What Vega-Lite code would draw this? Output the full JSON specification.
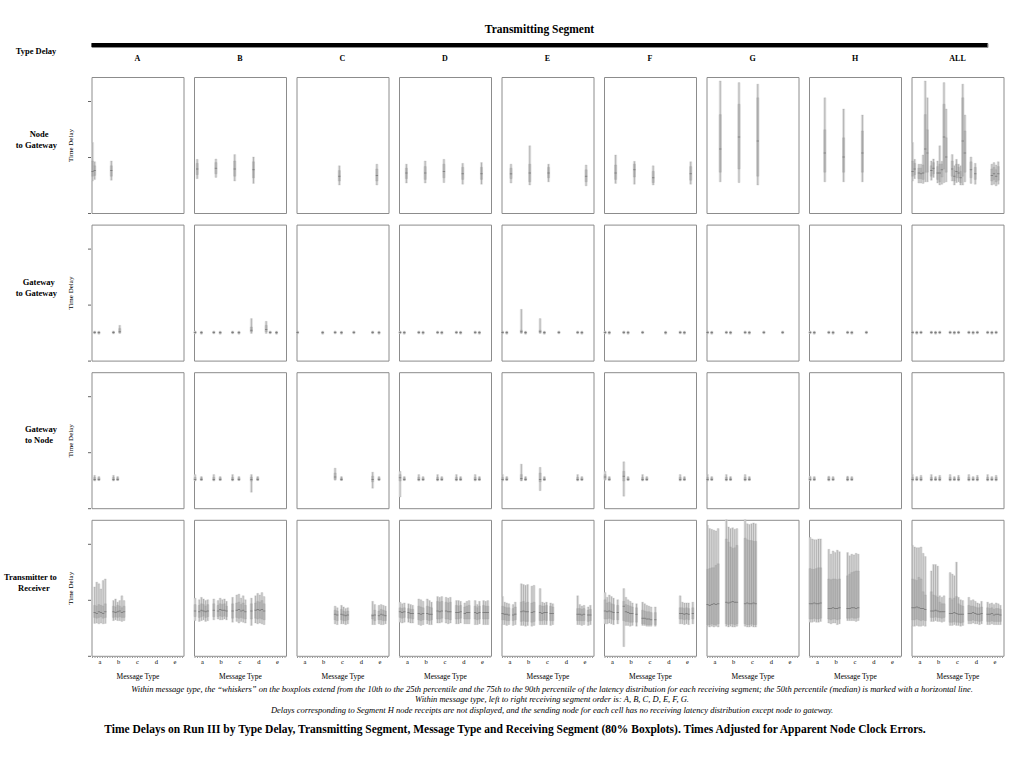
{
"$schema":"https://vega.github.io/schema/vega-lite/v6.json",
"background":"white",
"padding":{"left":3.5,"top":23,"right":10,"bottom":6},
"config":{"font":"Liberation Serif","view":{"stroke":"#8c8c8c","strokeWidth":1},"title":{"font":"Liberation Serif","color":"#000"},"header":{"labelFont":"Liberation Serif","titleFont":"Liberation Serif","labelColor":"#000"},"axis":{"labelFont":"Liberation Serif","titleFont":"Liberation Serif"}},
"title":{"text":"Time Delays on Run III by Type Delay, Transmitting Segment, Message Type and Receiving Segment (80% Boxplots). Times Adjusted for Apparent Node Clock Errors.","orient":"bottom","anchor":"middle","fontSize":11.5,"fontWeight":"bold","offset":10,"dx":11},
"spacing":0,
"vconcat":[
{"width":896,"height":4,
 "title":{"text":"Transmitting Segment","fontSize":11.5,"fontWeight":"bold","offset":8,"anchor":"middle"},
 "data":{"values":[{"x0":0,"x1":1,"y0":0.5}]},
 "mark":{"type":"rule","strokeWidth":4,"color":"#000"},
 "encoding":{
  "x":{"field":"x0","type":"quantitative","scale":{"domain":[0,1]},"axis":null},
  "x2":{"field":"x1"},
  "y":{"field":"y0","type":"quantitative","scale":{"domain":[0,1]},"axis":{"title":"Type Delay","labels":false,"ticks":false,"domain":false,"grid":false,"titleAngle":0,"titleAlign":"center","titleBaseline":"middle","titleX":-56,"titleY":7,"titleFontSize":8.5,"titleFontWeight":"bold"}}
 }
},
{
 "data":{"values":[
{"t":1,"c":"A","m":"a","s":"A","l":4.0,"q":4.6,"d":5.2,"u":6.5,"h":8.8},
{"t":1,"c":"A","m":"a","s":"B","l":4.2,"q":4.7,"d":5.3,"u":5.9,"h":6.4},
{"t":1,"c":"A","m":"b","s":"A","l":4.1,"q":4.6,"d":5.3,"u":5.9,"h":6.5},
{"t":1,"c":"B","m":"a","s":"B","l":4.3,"q":4.8,"d":5.5,"u":6.2,"h":6.7},
{"t":1,"c":"B","m":"b","s":"B","l":4.45,"q":4.9,"d":5.6,"u":6.3,"h":6.75},
{"t":1,"c":"B","m":"c","s":"B","l":4.0,"q":4.6,"d":5.5,"u":6.5,"h":7.3},
{"t":1,"c":"B","m":"d","s":"B","l":3.7,"q":4.4,"d":5.4,"u":6.4,"h":7.0},
{"t":1,"c":"C","m":"c","s":"C","l":3.5,"q":4.0,"d":4.6,"u":5.3,"h":5.9},
{"t":1,"c":"C","m":"e","s":"C","l":3.5,"q":4.0,"d":4.7,"u":5.5,"h":6.1},
{"t":1,"c":"D","m":"a","s":"D","l":3.75,"q":4.3,"d":5.0,"u":5.6,"h":6.1},
{"t":1,"c":"D","m":"b","s":"D","l":3.75,"q":4.2,"d":5.0,"u":5.8,"h":6.5},
{"t":1,"c":"D","m":"c","s":"D","l":3.8,"q":4.4,"d":5.2,"u":6.1,"h":6.7},
{"t":1,"c":"D","m":"d","s":"D","l":3.6,"q":4.2,"d":4.9,"u":5.7,"h":6.2},
{"t":1,"c":"D","m":"e","s":"D","l":3.6,"q":4.2,"d":4.9,"u":5.7,"h":6.3},
{"t":1,"c":"E","m":"a","s":"E","l":3.75,"q":4.3,"d":4.9,"u":5.6,"h":6.1},
{"t":1,"c":"E","m":"b","s":"E","l":3.5,"q":3.9,"d":5.0,"u":6.1,"h":8.4},
{"t":1,"c":"E","m":"c","s":"E","l":3.9,"q":4.4,"d":5.0,"u":5.7,"h":6.1},
{"t":1,"c":"E","m":"e","s":"E","l":3.4,"q":3.9,"d":4.6,"u":5.4,"h":6.0},
{"t":1,"c":"F","m":"a","s":"F","l":3.7,"q":4.2,"d":5.0,"u":6.0,"h":7.25},
{"t":1,"c":"F","m":"b","s":"F","l":3.6,"q":4.5,"d":5.4,"u":6.1,"h":6.45},
{"t":1,"c":"F","m":"c","s":"F","l":3.5,"q":3.8,"d":4.4,"u":5.2,"h":5.9},
{"t":1,"c":"F","m":"e","s":"F","l":3.6,"q":4.1,"d":4.9,"u":5.8,"h":6.4},
{"t":1,"c":"G","m":"a","s":"G","l":3.9,"q":5.1,"d":8.0,"u":12.3,"h":16.5},
{"t":1,"c":"G","m":"b","s":"G","l":3.8,"q":5.5,"d":9.5,"u":13.6,"h":16.3},
{"t":1,"c":"G","m":"c","s":"G","l":3.5,"q":4.6,"d":9.0,"u":14.4,"h":16.1},
{"t":1,"c":"H","m":"a","s":"H","l":3.9,"q":5.1,"d":7.5,"u":10.4,"h":14.4},
{"t":1,"c":"H","m":"b","s":"H","l":3.9,"q":5.1,"d":7.0,"u":9.4,"h":13.0},
{"t":1,"c":"H","m":"c","s":"H","l":3.9,"q":5.1,"d":7.5,"u":10.25,"h":12.25},
{"t":1,"c":"ALL","m":"a","s":"A","l":4.0,"q":4.6,"d":5.2,"u":6.5,"h":8.8},
{"t":1,"c":"ALL","m":"a","s":"B","l":4.3,"q":4.8,"d":5.5,"u":6.2,"h":6.7},
{"t":1,"c":"ALL","m":"a","s":"D","l":3.75,"q":4.3,"d":5.0,"u":5.6,"h":6.1},
{"t":1,"c":"ALL","m":"a","s":"E","l":3.75,"q":4.3,"d":4.9,"u":5.6,"h":6.1},
{"t":1,"c":"ALL","m":"a","s":"F","l":3.7,"q":4.2,"d":5.0,"u":6.0,"h":7.25},
{"t":1,"c":"ALL","m":"a","s":"G","l":3.9,"q":5.1,"d":8.0,"u":12.3,"h":16.5},
{"t":1,"c":"ALL","m":"a","s":"H","l":3.9,"q":5.1,"d":7.5,"u":10.4,"h":14.4},
{"t":1,"c":"ALL","m":"b","s":"A","l":4.1,"q":4.6,"d":5.3,"u":5.9,"h":6.5},
{"t":1,"c":"ALL","m":"b","s":"B","l":4.45,"q":4.9,"d":5.6,"u":6.3,"h":6.75},
{"t":1,"c":"ALL","m":"b","s":"D","l":3.75,"q":4.2,"d":5.0,"u":5.8,"h":6.5},
{"t":1,"c":"ALL","m":"b","s":"E","l":3.5,"q":3.9,"d":5.0,"u":6.1,"h":8.4},
{"t":1,"c":"ALL","m":"b","s":"F","l":3.6,"q":4.5,"d":5.4,"u":6.1,"h":6.45},
{"t":1,"c":"ALL","m":"b","s":"G","l":3.8,"q":5.5,"d":9.5,"u":13.6,"h":16.3},
{"t":1,"c":"ALL","m":"b","s":"H","l":3.9,"q":5.1,"d":7.0,"u":9.4,"h":13.0},
{"t":1,"c":"ALL","m":"c","s":"B","l":4.0,"q":4.6,"d":5.5,"u":6.5,"h":7.3},
{"t":1,"c":"ALL","m":"c","s":"C","l":3.5,"q":4.0,"d":4.6,"u":5.3,"h":5.9},
{"t":1,"c":"ALL","m":"c","s":"D","l":3.8,"q":4.4,"d":5.2,"u":6.1,"h":6.7},
{"t":1,"c":"ALL","m":"c","s":"E","l":3.9,"q":4.4,"d":5.0,"u":5.7,"h":6.1},
{"t":1,"c":"ALL","m":"c","s":"F","l":3.5,"q":3.8,"d":4.4,"u":5.2,"h":5.9},
{"t":1,"c":"ALL","m":"c","s":"G","l":3.5,"q":4.6,"d":9.0,"u":14.4,"h":16.1},
{"t":1,"c":"ALL","m":"c","s":"H","l":3.9,"q":5.1,"d":7.5,"u":10.25,"h":12.25},
{"t":1,"c":"ALL","m":"d","s":"B","l":3.7,"q":4.4,"d":5.4,"u":6.4,"h":7.0},
{"t":1,"c":"ALL","m":"d","s":"D","l":3.6,"q":4.2,"d":4.9,"u":5.7,"h":6.2},
{"t":1,"c":"ALL","m":"e","s":"C","l":3.5,"q":4.0,"d":4.7,"u":5.5,"h":6.1},
{"t":1,"c":"ALL","m":"e","s":"D","l":3.6,"q":4.2,"d":4.9,"u":5.7,"h":6.3},
{"t":1,"c":"ALL","m":"e","s":"E","l":3.4,"q":3.9,"d":4.6,"u":5.4,"h":6.0},
{"t":1,"c":"ALL","m":"e","s":"F","l":3.6,"q":4.1,"d":4.9,"u":5.8,"h":6.4},

{"t":2,"c":"A","m":"a","s":"B","l":3.35,"q":3.45,"d":3.5,"u":3.6,"h":3.7},
{"t":2,"c":"A","m":"a","s":"D","l":3.3,"q":3.4,"d":3.5,"u":3.58,"h":3.68},
{"t":2,"c":"A","m":"b","s":"B","l":3.35,"q":3.45,"d":3.5,"u":3.6,"h":3.7},
{"t":2,"c":"A","m":"b","s":"E","l":3.4,"q":3.5,"d":3.6,"u":4.0,"h":4.4},
{"t":2,"c":"B","m":"a","s":"A","l":3.35,"q":3.45,"d":3.5,"u":3.6,"h":3.7},
{"t":2,"c":"B","m":"a","s":"D","l":3.3,"q":3.4,"d":3.5,"u":3.58,"h":3.68},
{"t":2,"c":"B","m":"b","s":"A","l":3.35,"q":3.45,"d":3.5,"u":3.6,"h":3.7},
{"t":2,"c":"B","m":"b","s":"D","l":3.3,"q":3.4,"d":3.5,"u":3.58,"h":3.68},
{"t":2,"c":"B","m":"c","s":"A","l":3.35,"q":3.45,"d":3.5,"u":3.6,"h":3.7},
{"t":2,"c":"B","m":"c","s":"D","l":3.3,"q":3.4,"d":3.5,"u":3.58,"h":3.68},
{"t":2,"c":"B","m":"d","s":"A","l":3.4,"q":3.6,"d":3.8,"u":4.2,"h":5.25},
{"t":2,"c":"B","m":"d","s":"H","l":3.4,"q":3.6,"d":3.9,"u":4.4,"h":4.9},
{"t":2,"c":"B","m":"e","s":"A","l":3.35,"q":3.45,"d":3.5,"u":3.6,"h":3.7},
{"t":2,"c":"B","m":"e","s":"D","l":3.3,"q":3.4,"d":3.5,"u":3.58,"h":3.68},
{"t":2,"c":"C","m":"a","s":"A","l":3.35,"q":3.45,"d":3.5,"u":3.6,"h":3.7},
{"t":2,"c":"C","m":"b","s":"D","l":3.3,"q":3.4,"d":3.5,"u":3.58,"h":3.68},
{"t":2,"c":"C","m":"c","s":"A","l":3.35,"q":3.45,"d":3.5,"u":3.6,"h":3.7},
{"t":2,"c":"C","m":"c","s":"D","l":3.3,"q":3.4,"d":3.5,"u":3.58,"h":3.68},
{"t":2,"c":"C","m":"d","s":"A","l":3.35,"q":3.45,"d":3.5,"u":3.6,"h":3.7},
{"t":2,"c":"C","m":"e","s":"A","l":3.35,"q":3.45,"d":3.5,"u":3.6,"h":3.7},
{"t":2,"c":"C","m":"e","s":"D","l":3.3,"q":3.4,"d":3.5,"u":3.58,"h":3.68},
{"t":2,"c":"D","m":"a","s":"A","l":3.35,"q":3.45,"d":3.5,"u":3.6,"h":3.7},
{"t":2,"c":"D","m":"a","s":"C","l":3.3,"q":3.4,"d":3.5,"u":3.58,"h":3.68},
{"t":2,"c":"D","m":"b","s":"A","l":3.35,"q":3.45,"d":3.5,"u":3.6,"h":3.7},
{"t":2,"c":"D","m":"b","s":"C","l":3.3,"q":3.4,"d":3.5,"u":3.58,"h":3.68},
{"t":2,"c":"D","m":"c","s":"A","l":3.35,"q":3.45,"d":3.5,"u":3.6,"h":3.7},
{"t":2,"c":"D","m":"c","s":"C","l":3.3,"q":3.4,"d":3.5,"u":3.58,"h":3.68},
{"t":2,"c":"D","m":"d","s":"A","l":3.35,"q":3.45,"d":3.5,"u":3.6,"h":3.7},
{"t":2,"c":"D","m":"d","s":"C","l":3.3,"q":3.4,"d":3.5,"u":3.58,"h":3.68},
{"t":2,"c":"D","m":"e","s":"A","l":3.35,"q":3.45,"d":3.5,"u":3.6,"h":3.7},
{"t":2,"c":"D","m":"e","s":"C","l":3.3,"q":3.4,"d":3.5,"u":3.58,"h":3.68},
{"t":2,"c":"E","m":"a","s":"A","l":3.35,"q":3.45,"d":3.5,"u":3.6,"h":3.7},
{"t":2,"c":"E","m":"a","s":"C","l":3.3,"q":3.4,"d":3.5,"u":3.58,"h":3.68},
{"t":2,"c":"E","m":"b","s":"A","l":3.4,"q":3.5,"d":3.6,"u":3.8,"h":6.4},
{"t":2,"c":"E","m":"b","s":"C","l":3.3,"q":3.4,"d":3.5,"u":3.58,"h":3.68},
{"t":2,"c":"E","m":"c","s":"A","l":3.4,"q":3.5,"d":3.6,"u":3.8,"h":5.25},
{"t":2,"c":"E","m":"c","s":"C","l":3.3,"q":3.4,"d":3.5,"u":3.58,"h":3.68},
{"t":2,"c":"E","m":"d","s":"A","l":3.35,"q":3.45,"d":3.5,"u":3.6,"h":3.7},
{"t":2,"c":"E","m":"e","s":"A","l":3.35,"q":3.45,"d":3.5,"u":3.6,"h":3.7},
{"t":2,"c":"E","m":"e","s":"C","l":3.3,"q":3.4,"d":3.5,"u":3.58,"h":3.68},
{"t":2,"c":"F","m":"a","s":"A","l":3.35,"q":3.45,"d":3.5,"u":3.6,"h":3.7},
{"t":2,"c":"F","m":"a","s":"C","l":3.3,"q":3.4,"d":3.5,"u":3.58,"h":3.68},
{"t":2,"c":"F","m":"b","s":"A","l":3.35,"q":3.45,"d":3.5,"u":3.6,"h":3.7},
{"t":2,"c":"F","m":"b","s":"C","l":3.3,"q":3.4,"d":3.5,"u":3.58,"h":3.68},
{"t":2,"c":"F","m":"c","s":"A","l":3.35,"q":3.45,"d":3.5,"u":3.6,"h":3.7},
{"t":2,"c":"F","m":"d","s":"C","l":3.3,"q":3.4,"d":3.5,"u":3.58,"h":3.68},
{"t":2,"c":"F","m":"e","s":"A","l":3.35,"q":3.45,"d":3.5,"u":3.6,"h":3.7},
{"t":2,"c":"F","m":"e","s":"C","l":3.3,"q":3.4,"d":3.5,"u":3.58,"h":3.68},
{"t":2,"c":"G","m":"a","s":"A","l":3.35,"q":3.45,"d":3.5,"u":3.6,"h":3.7},
{"t":2,"c":"G","m":"a","s":"C","l":3.3,"q":3.4,"d":3.5,"u":3.58,"h":3.68},
{"t":2,"c":"G","m":"b","s":"A","l":3.35,"q":3.45,"d":3.5,"u":3.6,"h":3.7},
{"t":2,"c":"G","m":"b","s":"C","l":3.3,"q":3.4,"d":3.5,"u":3.58,"h":3.68},
{"t":2,"c":"G","m":"c","s":"A","l":3.35,"q":3.45,"d":3.5,"u":3.6,"h":3.7},
{"t":2,"c":"G","m":"c","s":"C","l":3.3,"q":3.4,"d":3.5,"u":3.58,"h":3.68},
{"t":2,"c":"G","m":"d","s":"A","l":3.35,"q":3.45,"d":3.5,"u":3.6,"h":3.7},
{"t":2,"c":"G","m":"e","s":"A","l":3.35,"q":3.45,"d":3.5,"u":3.6,"h":3.7},
{"t":2,"c":"H","m":"a","s":"A","l":3.35,"q":3.45,"d":3.5,"u":3.6,"h":3.7},
{"t":2,"c":"H","m":"a","s":"C","l":3.3,"q":3.4,"d":3.5,"u":3.58,"h":3.68},
{"t":2,"c":"H","m":"b","s":"A","l":3.35,"q":3.45,"d":3.5,"u":3.6,"h":3.7},
{"t":2,"c":"H","m":"b","s":"C","l":3.3,"q":3.4,"d":3.5,"u":3.58,"h":3.68},
{"t":2,"c":"H","m":"c","s":"A","l":3.35,"q":3.45,"d":3.5,"u":3.6,"h":3.7},
{"t":2,"c":"H","m":"c","s":"C","l":3.3,"q":3.4,"d":3.5,"u":3.58,"h":3.68},
{"t":2,"c":"H","m":"d","s":"A","l":3.35,"q":3.45,"d":3.5,"u":3.6,"h":3.7},
{"t":2,"c":"ALL","m":"a","s":"A","l":3.35,"q":3.45,"d":3.5,"u":3.6,"h":3.7},
{"t":2,"c":"ALL","m":"a","s":"C","l":3.3,"q":3.4,"d":3.5,"u":3.58,"h":3.68},
{"t":2,"c":"ALL","m":"a","s":"E","l":3.35,"q":3.45,"d":3.5,"u":3.6,"h":3.7},
{"t":2,"c":"ALL","m":"b","s":"A","l":3.35,"q":3.45,"d":3.5,"u":3.6,"h":3.7},
{"t":2,"c":"ALL","m":"b","s":"C","l":3.3,"q":3.4,"d":3.5,"u":3.58,"h":3.68},
{"t":2,"c":"ALL","m":"b","s":"E","l":3.35,"q":3.45,"d":3.5,"u":3.6,"h":3.7},
{"t":2,"c":"ALL","m":"c","s":"A","l":3.35,"q":3.45,"d":3.5,"u":3.6,"h":3.7},
{"t":2,"c":"ALL","m":"c","s":"C","l":3.3,"q":3.4,"d":3.5,"u":3.58,"h":3.68},
{"t":2,"c":"ALL","m":"c","s":"E","l":3.35,"q":3.45,"d":3.5,"u":3.6,"h":3.7},
{"t":2,"c":"ALL","m":"d","s":"A","l":3.35,"q":3.45,"d":3.5,"u":3.6,"h":3.7},
{"t":2,"c":"ALL","m":"d","s":"C","l":3.3,"q":3.4,"d":3.5,"u":3.58,"h":3.68},
{"t":2,"c":"ALL","m":"d","s":"E","l":3.35,"q":3.45,"d":3.5,"u":3.6,"h":3.7},
{"t":2,"c":"ALL","m":"e","s":"A","l":3.35,"q":3.45,"d":3.5,"u":3.6,"h":3.7},
{"t":2,"c":"ALL","m":"e","s":"C","l":3.3,"q":3.4,"d":3.5,"u":3.58,"h":3.68},
{"t":2,"c":"ALL","m":"e","s":"E","l":3.35,"q":3.45,"d":3.5,"u":3.6,"h":3.7},

{"t":3,"c":"A","m":"a","s":"B","l":3.4,"q":3.5,"d":3.6,"u":3.85,"h":4.1},
{"t":3,"c":"A","m":"a","s":"D","l":3.45,"q":3.5,"d":3.6,"u":3.8,"h":3.95},
{"t":3,"c":"A","m":"b","s":"B","l":3.4,"q":3.5,"d":3.6,"u":3.85,"h":4.1},
{"t":3,"c":"A","m":"b","s":"D","l":3.45,"q":3.5,"d":3.6,"u":3.8,"h":3.95},
{"t":3,"c":"B","m":"a","s":"A","l":3.4,"q":3.5,"d":3.6,"u":3.85,"h":4.2},
{"t":3,"c":"B","m":"a","s":"D","l":3.45,"q":3.5,"d":3.6,"u":3.8,"h":3.95},
{"t":3,"c":"B","m":"b","s":"A","l":3.4,"q":3.5,"d":3.6,"u":3.85,"h":4.2},
{"t":3,"c":"B","m":"b","s":"D","l":3.45,"q":3.5,"d":3.6,"u":3.8,"h":3.95},
{"t":3,"c":"B","m":"c","s":"A","l":3.4,"q":3.5,"d":3.6,"u":3.85,"h":4.2},
{"t":3,"c":"B","m":"c","s":"D","l":3.45,"q":3.5,"d":3.6,"u":3.8,"h":3.95},
{"t":3,"c":"B","m":"d","s":"A","l":2.0,"q":3.4,"d":3.6,"u":3.9,"h":4.2},
{"t":3,"c":"B","m":"d","s":"D","l":3.45,"q":3.5,"d":3.6,"u":3.8,"h":3.95},
{"t":3,"c":"C","m":"c","s":"A","l":3.5,"q":3.6,"d":3.9,"u":4.4,"h":5.0},
{"t":3,"c":"C","m":"c","s":"D","l":3.45,"q":3.5,"d":3.6,"u":3.8,"h":3.95},
{"t":3,"c":"C","m":"e","s":"A","l":2.5,"q":3.3,"d":3.6,"u":4.0,"h":4.5},
{"t":3,"c":"C","m":"e","s":"D","l":3.45,"q":3.5,"d":3.6,"u":3.8,"h":3.95},
{"t":3,"c":"D","m":"a","s":"A","l":1.4,"q":3.4,"d":3.8,"u":4.2,"h":4.6},
{"t":3,"c":"D","m":"a","s":"C","l":3.45,"q":3.5,"d":3.6,"u":3.8,"h":3.95},
{"t":3,"c":"D","m":"b","s":"A","l":3.4,"q":3.5,"d":3.6,"u":3.85,"h":4.2},
{"t":3,"c":"D","m":"b","s":"C","l":3.45,"q":3.5,"d":3.6,"u":3.8,"h":3.95},
{"t":3,"c":"D","m":"c","s":"A","l":3.4,"q":3.5,"d":3.6,"u":3.85,"h":4.2},
{"t":3,"c":"D","m":"c","s":"C","l":3.45,"q":3.5,"d":3.6,"u":3.8,"h":3.95},
{"t":3,"c":"D","m":"d","s":"A","l":3.4,"q":3.5,"d":3.6,"u":3.85,"h":4.2},
{"t":3,"c":"D","m":"d","s":"C","l":3.45,"q":3.5,"d":3.6,"u":3.8,"h":3.95},
{"t":3,"c":"D","m":"e","s":"A","l":3.4,"q":3.5,"d":3.6,"u":3.85,"h":4.2},
{"t":3,"c":"D","m":"e","s":"C","l":3.45,"q":3.5,"d":3.6,"u":3.8,"h":3.95},
{"t":3,"c":"E","m":"a","s":"A","l":3.4,"q":3.5,"d":3.6,"u":3.85,"h":4.2},
{"t":3,"c":"E","m":"a","s":"C","l":3.45,"q":3.5,"d":3.6,"u":3.8,"h":3.95},
{"t":3,"c":"E","m":"b","s":"A","l":3.4,"q":3.5,"d":3.7,"u":4.2,"h":5.5},
{"t":3,"c":"E","m":"b","s":"C","l":3.45,"q":3.5,"d":3.6,"u":3.8,"h":3.95},
{"t":3,"c":"E","m":"c","s":"A","l":2.2,"q":3.3,"d":3.6,"u":4.4,"h":5.1},
{"t":3,"c":"E","m":"c","s":"C","l":3.45,"q":3.5,"d":3.6,"u":3.8,"h":3.95},
{"t":3,"c":"E","m":"e","s":"A","l":3.4,"q":3.5,"d":3.6,"u":3.85,"h":4.2},
{"t":3,"c":"E","m":"e","s":"C","l":3.45,"q":3.5,"d":3.6,"u":3.8,"h":3.95},
{"t":3,"c":"F","m":"a","s":"A","l":3.5,"q":3.6,"d":3.9,"u":4.2,"h":4.6},
{"t":3,"c":"F","m":"a","s":"C","l":3.45,"q":3.5,"d":3.6,"u":3.8,"h":3.95},
{"t":3,"c":"F","m":"b","s":"A","l":1.5,"q":3.4,"d":4.0,"u":4.6,"h":5.8},
{"t":3,"c":"F","m":"b","s":"C","l":3.45,"q":3.5,"d":3.6,"u":3.8,"h":3.95},
{"t":3,"c":"F","m":"c","s":"A","l":3.4,"q":3.5,"d":3.6,"u":3.85,"h":4.2},
{"t":3,"c":"F","m":"c","s":"C","l":3.45,"q":3.5,"d":3.6,"u":3.8,"h":3.95},
{"t":3,"c":"F","m":"e","s":"A","l":3.4,"q":3.5,"d":3.6,"u":3.85,"h":4.2},
{"t":3,"c":"F","m":"e","s":"C","l":3.45,"q":3.5,"d":3.6,"u":3.8,"h":3.95},
{"t":3,"c":"G","m":"a","s":"A","l":3.4,"q":3.5,"d":3.6,"u":3.85,"h":4.2},
{"t":3,"c":"G","m":"a","s":"C","l":3.45,"q":3.5,"d":3.6,"u":3.8,"h":3.95},
{"t":3,"c":"G","m":"b","s":"A","l":3.4,"q":3.5,"d":3.6,"u":3.85,"h":4.2},
{"t":3,"c":"G","m":"b","s":"C","l":3.45,"q":3.5,"d":3.6,"u":3.8,"h":3.95},
{"t":3,"c":"G","m":"c","s":"A","l":3.4,"q":3.5,"d":3.6,"u":3.85,"h":4.2},
{"t":3,"c":"G","m":"c","s":"C","l":3.45,"q":3.5,"d":3.6,"u":3.8,"h":3.95},
{"t":3,"c":"H","m":"a","s":"A","l":3.4,"q":3.5,"d":3.6,"u":3.85,"h":4.0},
{"t":3,"c":"H","m":"a","s":"C","l":3.45,"q":3.5,"d":3.6,"u":3.8,"h":3.95},
{"t":3,"c":"H","m":"b","s":"A","l":3.4,"q":3.5,"d":3.6,"u":3.85,"h":4.0},
{"t":3,"c":"H","m":"b","s":"C","l":3.45,"q":3.5,"d":3.6,"u":3.8,"h":3.95},
{"t":3,"c":"H","m":"c","s":"A","l":3.4,"q":3.5,"d":3.6,"u":3.85,"h":4.0},
{"t":3,"c":"H","m":"c","s":"C","l":3.45,"q":3.5,"d":3.6,"u":3.8,"h":3.95},
{"t":3,"c":"ALL","m":"a","s":"A","l":3.4,"q":3.5,"d":3.6,"u":3.85,"h":4.2},
{"t":3,"c":"ALL","m":"a","s":"C","l":3.45,"q":3.5,"d":3.6,"u":3.8,"h":3.95},
{"t":3,"c":"ALL","m":"a","s":"E","l":3.4,"q":3.5,"d":3.6,"u":3.85,"h":4.1},
{"t":3,"c":"ALL","m":"b","s":"A","l":3.4,"q":3.5,"d":3.6,"u":3.85,"h":4.2},
{"t":3,"c":"ALL","m":"b","s":"C","l":3.45,"q":3.5,"d":3.6,"u":3.8,"h":3.95},
{"t":3,"c":"ALL","m":"b","s":"E","l":3.4,"q":3.5,"d":3.6,"u":3.85,"h":4.1},
{"t":3,"c":"ALL","m":"c","s":"A","l":3.4,"q":3.5,"d":3.6,"u":3.85,"h":4.2},
{"t":3,"c":"ALL","m":"c","s":"C","l":3.45,"q":3.5,"d":3.6,"u":3.8,"h":3.95},
{"t":3,"c":"ALL","m":"c","s":"E","l":3.4,"q":3.5,"d":3.6,"u":3.85,"h":4.1},
{"t":3,"c":"ALL","m":"d","s":"A","l":3.4,"q":3.5,"d":3.6,"u":3.85,"h":4.2},
{"t":3,"c":"ALL","m":"d","s":"C","l":3.45,"q":3.5,"d":3.6,"u":3.8,"h":3.95},
{"t":3,"c":"ALL","m":"d","s":"E","l":3.4,"q":3.5,"d":3.6,"u":3.85,"h":4.1},
{"t":3,"c":"ALL","m":"e","s":"A","l":3.4,"q":3.5,"d":3.6,"u":3.85,"h":4.2},
{"t":3,"c":"ALL","m":"e","s":"C","l":3.45,"q":3.5,"d":3.6,"u":3.8,"h":3.95},
{"t":3,"c":"ALL","m":"e","s":"E","l":3.4,"q":3.5,"d":3.6,"u":3.85,"h":4.1},

{"t":4,"c":"A","m":"a","s":"B","l":4.05,"q":4.8,"d":5.4,"u":6.3,"h":8.6},
{"t":4,"c":"A","m":"a","s":"C","l":4.1,"q":4.7,"d":5.3,"u":6.2,"h":9.2},
{"t":4,"c":"A","m":"a","s":"D","l":4.0,"q":4.8,"d":5.5,"u":6.4,"h":9.0},
{"t":4,"c":"A","m":"a","s":"E","l":4.1,"q":4.9,"d":5.4,"u":6.3,"h":8.35},
{"t":4,"c":"A","m":"a","s":"F","l":4.0,"q":4.7,"d":5.3,"u":6.2,"h":9.4},
{"t":4,"c":"A","m":"a","s":"G","l":4.05,"q":4.8,"d":5.5,"u":6.5,"h":9.6},
{"t":4,"c":"A","m":"b","s":"B","l":4.4,"q":4.8,"d":5.5,"u":6.2,"h":6.9},
{"t":4,"c":"A","m":"b","s":"C","l":4.5,"q":4.9,"d":5.4,"u":6.1,"h":7.1},
{"t":4,"c":"A","m":"b","s":"D","l":4.4,"q":4.8,"d":5.5,"u":6.3,"h":6.7},
{"t":4,"c":"A","m":"b","s":"E","l":4.4,"q":4.9,"d":5.6,"u":6.2,"h":6.9},
{"t":4,"c":"A","m":"b","s":"F","l":4.3,"q":4.8,"d":5.4,"u":6.0,"h":7.5},
{"t":4,"c":"A","m":"b","s":"G","l":4.4,"q":4.8,"d":5.5,"u":6.2,"h":6.9},
{"t":4,"c":"B","m":"a","s":"A","l":4.4,"q":4.9,"d":5.6,"u":6.4,"h":7.2},
{"t":4,"c":"B","m":"a","s":"C","l":4.3,"q":4.8,"d":5.5,"u":6.3,"h":7.0},
{"t":4,"c":"B","m":"a","s":"D","l":4.4,"q":4.9,"d":5.7,"u":6.5,"h":7.3},
{"t":4,"c":"B","m":"a","s":"E","l":4.5,"q":5.0,"d":5.6,"u":6.4,"h":7.1},
{"t":4,"c":"B","m":"a","s":"F","l":4.3,"q":4.8,"d":5.5,"u":6.2,"h":6.9},
{"t":4,"c":"B","m":"a","s":"G","l":4.4,"q":4.9,"d":5.6,"u":6.4,"h":7.0},
{"t":4,"c":"B","m":"b","s":"A","l":4.5,"q":4.9,"d":5.7,"u":6.5,"h":7.1},
{"t":4,"c":"B","m":"b","s":"C","l":4.6,"q":4.9,"d":5.6,"u":6.3,"h":6.9},
{"t":4,"c":"B","m":"b","s":"D","l":4.5,"q":5.0,"d":5.8,"u":6.5,"h":7.2},
{"t":4,"c":"B","m":"b","s":"E","l":4.5,"q":4.9,"d":5.7,"u":6.4,"h":7.0},
{"t":4,"c":"B","m":"b","s":"F","l":4.6,"q":5.0,"d":5.7,"u":6.5,"h":7.1},
{"t":4,"c":"B","m":"b","s":"G","l":4.5,"q":4.9,"d":5.6,"u":6.2,"h":6.8},
{"t":4,"c":"B","m":"c","s":"A","l":4.2,"q":4.7,"d":5.6,"u":6.5,"h":7.3},
{"t":4,"c":"B","m":"c","s":"C","l":4.3,"q":4.8,"d":5.7,"u":6.6,"h":7.6},
{"t":4,"c":"B","m":"c","s":"D","l":4.1,"q":4.7,"d":5.8,"u":6.7,"h":7.7},
{"t":4,"c":"B","m":"c","s":"E","l":4.3,"q":4.8,"d":5.6,"u":6.4,"h":7.2},
{"t":4,"c":"B","m":"c","s":"F","l":4.2,"q":4.7,"d":5.7,"u":6.6,"h":7.5},
{"t":4,"c":"B","m":"c","s":"G","l":4.1,"q":4.6,"d":5.5,"u":6.3,"h":7.0},
{"t":4,"c":"B","m":"d","s":"A","l":3.8,"q":4.6,"d":5.6,"u":6.5,"h":7.2},
{"t":4,"c":"B","m":"d","s":"C","l":4.1,"q":4.7,"d":5.7,"u":6.6,"h":7.5},
{"t":4,"c":"B","m":"d","s":"D","l":4.0,"q":4.6,"d":5.8,"u":6.8,"h":7.8},
{"t":4,"c":"B","m":"d","s":"E","l":4.1,"q":4.7,"d":5.7,"u":6.7,"h":7.6},
{"t":4,"c":"B","m":"d","s":"F","l":4.0,"q":4.6,"d":5.8,"u":6.9,"h":7.9},
{"t":4,"c":"B","m":"d","s":"G","l":3.9,"q":4.5,"d":5.6,"u":6.5,"h":7.4},
{"t":4,"c":"C","m":"c","s":"A","l":4.0,"q":4.5,"d":5.2,"u":5.7,"h":6.2},
{"t":4,"c":"C","m":"c","s":"B","l":3.9,"q":4.4,"d":5.1,"u":5.6,"h":6.0},
{"t":4,"c":"C","m":"c","s":"D","l":4.0,"q":4.5,"d":5.2,"u":5.8,"h":6.3},
{"t":4,"c":"C","m":"c","s":"E","l":4.0,"q":4.4,"d":5.1,"u":5.6,"h":6.1},
{"t":4,"c":"C","m":"c","s":"F","l":3.9,"q":4.4,"d":5.0,"u":5.5,"h":5.9},
{"t":4,"c":"C","m":"c","s":"G","l":4.0,"q":4.5,"d":5.1,"u":5.6,"h":6.0},
{"t":4,"c":"C","m":"e","s":"A","l":3.9,"q":4.6,"d":5.0,"u":5.2,"h":6.8},
{"t":4,"c":"C","m":"e","s":"B","l":3.9,"q":4.4,"d":5.1,"u":5.7,"h":6.4},
{"t":4,"c":"C","m":"e","s":"D","l":4.0,"q":4.5,"d":5.0,"u":5.6,"h":6.3},
{"t":4,"c":"C","m":"e","s":"E","l":3.9,"q":4.5,"d":5.2,"u":5.8,"h":6.4},
{"t":4,"c":"C","m":"e","s":"F","l":3.9,"q":4.4,"d":5.1,"u":5.7,"h":6.3},
{"t":4,"c":"C","m":"e","s":"G","l":4.0,"q":4.4,"d":5.0,"u":5.6,"h":6.2},
{"t":4,"c":"D","m":"a","s":"A","l":4.2,"q":4.8,"d":5.5,"u":6.0,"h":6.7},
{"t":4,"c":"D","m":"a","s":"B","l":4.1,"q":4.7,"d":5.4,"u":5.9,"h":6.5},
{"t":4,"c":"D","m":"a","s":"C","l":4.2,"q":4.8,"d":5.5,"u":6.0,"h":6.6},
{"t":4,"c":"D","m":"a","s":"E","l":4.2,"q":4.7,"d":5.4,"u":5.9,"h":6.5},
{"t":4,"c":"D","m":"a","s":"F","l":4.1,"q":4.7,"d":5.3,"u":5.8,"h":6.4},
{"t":4,"c":"D","m":"a","s":"G","l":4.1,"q":4.6,"d":5.3,"u":5.8,"h":6.3},
{"t":4,"c":"D","m":"b","s":"A","l":3.9,"q":4.5,"d":5.3,"u":6.2,"h":7.1},
{"t":4,"c":"D","m":"b","s":"B","l":3.8,"q":4.4,"d":5.2,"u":6.1,"h":7.0},
{"t":4,"c":"D","m":"b","s":"C","l":3.9,"q":4.5,"d":5.3,"u":6.0,"h":6.8},
{"t":4,"c":"D","m":"b","s":"E","l":4.0,"q":4.5,"d":5.3,"u":6.2,"h":7.1},
{"t":4,"c":"D","m":"b","s":"F","l":3.9,"q":4.4,"d":5.2,"u":6.1,"h":6.9},
{"t":4,"c":"D","m":"b","s":"G","l":3.9,"q":4.5,"d":5.2,"u":6.0,"h":6.7},
{"t":4,"c":"D","m":"c","s":"A","l":4.1,"q":4.6,"d":5.6,"u":6.8,"h":7.4},
{"t":4,"c":"D","m":"c","s":"B","l":4.1,"q":4.6,"d":5.5,"u":6.7,"h":7.3},
{"t":4,"c":"D","m":"c","s":"C","l":4.2,"q":4.7,"d":5.6,"u":6.8,"h":7.4},
{"t":4,"c":"D","m":"c","s":"E","l":4.1,"q":4.6,"d":5.6,"u":6.7,"h":7.3},
{"t":4,"c":"D","m":"c","s":"F","l":4.0,"q":4.6,"d":5.5,"u":6.6,"h":7.2},
{"t":4,"c":"D","m":"c","s":"G","l":4.1,"q":4.5,"d":5.5,"u":6.7,"h":7.3},
{"t":4,"c":"D","m":"d","s":"A","l":4.0,"q":4.6,"d":5.4,"u":6.3,"h":6.9},
{"t":4,"c":"D","m":"d","s":"B","l":4.0,"q":4.6,"d":5.4,"u":6.2,"h":6.9},
{"t":4,"c":"D","m":"d","s":"C","l":4.1,"q":4.7,"d":5.5,"u":6.3,"h":6.8},
{"t":4,"c":"D","m":"d","s":"E","l":4.0,"q":4.6,"d":5.3,"u":6.1,"h":6.6},
{"t":4,"c":"D","m":"d","s":"F","l":4.0,"q":4.6,"d":5.4,"u":6.2,"h":6.8},
{"t":4,"c":"D","m":"d","s":"G","l":4.0,"q":4.6,"d":5.4,"u":6.3,"h":6.9},
{"t":4,"c":"D","m":"e","s":"A","l":3.9,"q":4.6,"d":5.4,"u":6.2,"h":6.9},
{"t":4,"c":"D","m":"e","s":"B","l":3.9,"q":4.5,"d":5.3,"u":6.0,"h":6.4},
{"t":4,"c":"D","m":"e","s":"C","l":4.0,"q":4.6,"d":5.4,"u":6.2,"h":6.8},
{"t":4,"c":"D","m":"e","s":"E","l":3.9,"q":4.6,"d":5.4,"u":6.3,"h":6.9},
{"t":4,"c":"D","m":"e","s":"F","l":3.9,"q":4.6,"d":5.4,"u":6.2,"h":6.8},
{"t":4,"c":"D","m":"e","s":"G","l":3.9,"q":4.6,"d":5.4,"u":6.2,"h":6.9},
{"t":4,"c":"E","m":"a","s":"A","l":3.9,"q":4.5,"d":5.3,"u":6.2,"h":7.4},
{"t":4,"c":"E","m":"a","s":"B","l":3.9,"q":4.5,"d":5.2,"u":6.1,"h":6.7},
{"t":4,"c":"E","m":"a","s":"C","l":3.8,"q":4.4,"d":5.2,"u":6.0,"h":6.6},
{"t":4,"c":"E","m":"a","s":"D","l":3.9,"q":4.4,"d":5.1,"u":6.0,"h":6.5},
{"t":4,"c":"E","m":"a","s":"F","l":3.8,"q":4.4,"d":5.1,"u":5.9,"h":6.4},
{"t":4,"c":"E","m":"a","s":"G","l":3.9,"q":4.5,"d":5.2,"u":6.1,"h":6.7},
{"t":4,"c":"E","m":"b","s":"A","l":3.8,"q":4.3,"d":5.5,"u":6.7,"h":9.0},
{"t":4,"c":"E","m":"b","s":"B","l":3.8,"q":4.4,"d":5.6,"u":6.8,"h":8.9},
{"t":4,"c":"E","m":"b","s":"C","l":3.7,"q":4.3,"d":5.5,"u":6.6,"h":8.8},
{"t":4,"c":"E","m":"b","s":"D","l":3.8,"q":4.3,"d":5.5,"u":6.7,"h":8.9},
{"t":4,"c":"E","m":"b","s":"F","l":3.7,"q":4.2,"d":5.4,"u":6.6,"h":8.7},
{"t":4,"c":"E","m":"b","s":"G","l":3.8,"q":4.3,"d":5.5,"u":6.7,"h":8.8},
{"t":4,"c":"E","m":"c","s":"A","l":3.9,"q":4.4,"d":5.4,"u":6.3,"h":8.4},
{"t":4,"c":"E","m":"c","s":"B","l":3.9,"q":4.4,"d":5.3,"u":6.2,"h":6.7},
{"t":4,"c":"E","m":"c","s":"C","l":3.9,"q":4.5,"d":5.4,"u":6.2,"h":6.6},
{"t":4,"c":"E","m":"c","s":"D","l":3.9,"q":4.4,"d":5.4,"u":6.3,"h":6.7},
{"t":4,"c":"E","m":"c","s":"F","l":3.8,"q":4.4,"d":5.3,"u":6.2,"h":6.6},
{"t":4,"c":"E","m":"c","s":"G","l":3.9,"q":4.4,"d":5.3,"u":6.1,"h":6.5},
{"t":4,"c":"E","m":"e","s":"A","l":3.9,"q":4.4,"d":5.2,"u":5.9,"h":7.5},
{"t":4,"c":"E","m":"e","s":"B","l":3.9,"q":4.4,"d":5.2,"u":5.9,"h":6.4},
{"t":4,"c":"E","m":"e","s":"C","l":3.8,"q":4.4,"d":5.1,"u":5.8,"h":6.2},
{"t":4,"c":"E","m":"e","s":"D","l":3.9,"q":4.4,"d":5.2,"u":5.9,"h":6.3},
{"t":4,"c":"E","m":"e","s":"F","l":3.8,"q":4.3,"d":5.1,"u":5.7,"h":6.1},
{"t":4,"c":"E","m":"e","s":"G","l":3.9,"q":4.4,"d":5.1,"u":5.8,"h":6.3},
{"t":4,"c":"F","m":"a","s":"A","l":4.0,"q":4.6,"d":5.6,"u":7.0,"h":7.9},
{"t":4,"c":"F","m":"a","s":"B","l":4.0,"q":4.6,"d":5.5,"u":6.6,"h":7.3},
{"t":4,"c":"F","m":"a","s":"C","l":4.1,"q":4.7,"d":5.6,"u":6.7,"h":7.6},
{"t":4,"c":"F","m":"a","s":"D","l":4.0,"q":4.6,"d":5.5,"u":6.5,"h":7.4},
{"t":4,"c":"F","m":"a","s":"E","l":3.9,"q":4.5,"d":5.4,"u":6.4,"h":7.2},
{"t":4,"c":"F","m":"a","s":"G","l":4.0,"q":4.5,"d":5.4,"u":6.3,"h":7.0},
{"t":4,"c":"F","m":"b","s":"A","l":1.15,"q":4.4,"d":6.2,"u":6.8,"h":8.4},
{"t":4,"c":"F","m":"b","s":"B","l":3.8,"q":4.3,"d":5.5,"u":6.4,"h":7.3},
{"t":4,"c":"F","m":"b","s":"C","l":3.8,"q":4.3,"d":5.4,"u":6.3,"h":7.0},
{"t":4,"c":"F","m":"b","s":"D","l":3.7,"q":4.2,"d":5.3,"u":6.2,"h":6.8},
{"t":4,"c":"F","m":"b","s":"E","l":3.8,"q":4.2,"d":5.3,"u":6.1,"h":6.6},
{"t":4,"c":"F","m":"b","s":"G","l":3.7,"q":4.2,"d":5.2,"u":6.0,"h":6.5},
{"t":4,"c":"F","m":"c","s":"A","l":3.8,"q":4.0,"d":4.7,"u":5.7,"h":6.7},
{"t":4,"c":"F","m":"c","s":"B","l":3.8,"q":4.0,"d":4.7,"u":5.6,"h":6.5},
{"t":4,"c":"F","m":"c","s":"C","l":3.7,"q":3.9,"d":4.6,"u":5.5,"h":6.3},
{"t":4,"c":"F","m":"c","s":"D","l":3.7,"q":3.9,"d":4.6,"u":5.5,"h":6.2},
{"t":4,"c":"F","m":"c","s":"E","l":3.7,"q":3.9,"d":4.5,"u":5.4,"h":6.1},
{"t":4,"c":"F","m":"c","s":"G","l":3.7,"q":3.9,"d":4.5,"u":5.4,"h":6.1},
{"t":4,"c":"F","m":"e","s":"A","l":4.0,"q":4.6,"d":5.3,"u":6.0,"h":7.5},
{"t":4,"c":"F","m":"e","s":"B","l":4.0,"q":4.6,"d":5.3,"u":6.0,"h":6.7},
{"t":4,"c":"F","m":"e","s":"C","l":3.9,"q":4.5,"d":5.2,"u":5.9,"h":6.6},
{"t":4,"c":"F","m":"e","s":"D","l":4.0,"q":4.6,"d":5.3,"u":6.0,"h":6.6},
{"t":4,"c":"F","m":"e","s":"E","l":3.9,"q":4.5,"d":5.2,"u":5.9,"h":6.6},
{"t":4,"c":"F","m":"e","s":"G","l":4.0,"q":4.6,"d":5.3,"u":6.0,"h":6.7},
{"t":4,"c":"G","m":"a","s":"A","l":3.7,"q":3.9,"d":6.4,"u":10.8,"h":16.3},
{"t":4,"c":"G","m":"a","s":"B","l":3.6,"q":3.9,"d":6.3,"u":10.9,"h":15.9},
{"t":4,"c":"G","m":"a","s":"C","l":3.7,"q":4.0,"d":6.4,"u":11.0,"h":15.8},
{"t":4,"c":"G","m":"a","s":"D","l":3.6,"q":3.9,"d":6.5,"u":11.0,"h":15.7},
{"t":4,"c":"G","m":"a","s":"E","l":3.7,"q":3.9,"d":6.4,"u":11.3,"h":15.6},
{"t":4,"c":"G","m":"a","s":"F","l":3.6,"q":4.0,"d":6.5,"u":11.5,"h":15.9},
{"t":4,"c":"G","m":"b","s":"A","l":3.7,"q":4.0,"d":6.7,"u":14.6,"h":17.0},
{"t":4,"c":"G","m":"b","s":"B","l":3.6,"q":3.9,"d":6.6,"u":14.2,"h":16.1},
{"t":4,"c":"G","m":"b","s":"C","l":3.7,"q":4.0,"d":6.7,"u":13.6,"h":15.9},
{"t":4,"c":"G","m":"b","s":"D","l":3.6,"q":4.0,"d":6.8,"u":13.4,"h":16.0},
{"t":4,"c":"G","m":"b","s":"E","l":3.6,"q":3.9,"d":6.7,"u":13.5,"h":15.8},
{"t":4,"c":"G","m":"b","s":"F","l":3.7,"q":4.0,"d":6.7,"u":13.8,"h":15.9},
{"t":4,"c":"G","m":"c","s":"A","l":3.7,"q":4.0,"d":6.5,"u":14.7,"h":17.0},
{"t":4,"c":"G","m":"c","s":"B","l":3.6,"q":3.9,"d":6.6,"u":14.5,"h":16.5},
{"t":4,"c":"G","m":"c","s":"C","l":3.6,"q":3.9,"d":6.5,"u":14.4,"h":16.4},
{"t":4,"c":"G","m":"c","s":"D","l":3.7,"q":4.0,"d":6.5,"u":14.4,"h":16.5},
{"t":4,"c":"G","m":"c","s":"E","l":3.6,"q":3.9,"d":6.6,"u":14.3,"h":16.6},
{"t":4,"c":"G","m":"c","s":"F","l":3.6,"q":3.9,"d":6.5,"u":14.3,"h":16.5},
{"t":4,"c":"H","m":"a","s":"A","l":4.2,"q":4.6,"d":6.5,"u":10.9,"h":14.8},
{"t":4,"c":"H","m":"a","s":"B","l":4.2,"q":4.6,"d":6.5,"u":10.8,"h":14.6},
{"t":4,"c":"H","m":"a","s":"C","l":4.3,"q":4.7,"d":6.6,"u":10.8,"h":14.5},
{"t":4,"c":"H","m":"a","s":"D","l":4.2,"q":4.6,"d":6.5,"u":10.9,"h":14.5},
{"t":4,"c":"H","m":"a","s":"E","l":4.2,"q":4.6,"d":6.5,"u":11.0,"h":14.6},
{"t":4,"c":"H","m":"a","s":"F","l":4.3,"q":4.7,"d":6.6,"u":11.0,"h":14.6},
{"t":4,"c":"H","m":"b","s":"A","l":4.1,"q":4.6,"d":5.9,"u":9.6,"h":13.3},
{"t":4,"c":"H","m":"b","s":"B","l":4.0,"q":4.5,"d":5.9,"u":9.5,"h":12.7},
{"t":4,"c":"H","m":"b","s":"C","l":4.1,"q":4.6,"d":6.0,"u":9.6,"h":13.1},
{"t":4,"c":"H","m":"b","s":"D","l":4.1,"q":4.6,"d":5.9,"u":9.6,"h":12.9},
{"t":4,"c":"H","m":"b","s":"E","l":3.9,"q":4.5,"d":5.9,"u":9.5,"h":13.2},
{"t":4,"c":"H","m":"b","s":"F","l":4.0,"q":4.6,"d":6.0,"u":9.6,"h":13.0},
{"t":4,"c":"H","m":"c","s":"A","l":4.4,"q":4.7,"d":5.9,"u":10.0,"h":12.9},
{"t":4,"c":"H","m":"c","s":"B","l":4.4,"q":4.7,"d":5.9,"u":10.2,"h":12.5},
{"t":4,"c":"H","m":"c","s":"C","l":4.4,"q":4.8,"d":6.0,"u":10.4,"h":12.7},
{"t":4,"c":"H","m":"c","s":"D","l":4.4,"q":4.7,"d":6.0,"u":10.5,"h":12.6},
{"t":4,"c":"H","m":"c","s":"E","l":4.3,"q":4.7,"d":5.9,"u":10.6,"h":12.8},
{"t":4,"c":"H","m":"c","s":"F","l":4.4,"q":4.8,"d":6.0,"u":10.6,"h":12.7},
{"t":4,"c":"ALL","m":"a","s":"A","l":3.7,"q":4.5,"d":6.0,"u":9.6,"h":13.8},
{"t":4,"c":"ALL","m":"a","s":"B","l":3.7,"q":4.5,"d":6.0,"u":9.5,"h":13.6},
{"t":4,"c":"ALL","m":"a","s":"C","l":3.8,"q":4.6,"d":6.1,"u":9.4,"h":13.5},
{"t":4,"c":"ALL","m":"a","s":"D","l":3.7,"q":4.5,"d":6.0,"u":9.8,"h":13.5},
{"t":4,"c":"ALL","m":"a","s":"E","l":3.7,"q":4.4,"d":5.9,"u":9.6,"h":13.6},
{"t":4,"c":"ALL","m":"a","s":"F","l":3.8,"q":4.5,"d":5.9,"u":8.0,"h":12.8},
{"t":4,"c":"ALL","m":"a","s":"G","l":3.7,"q":4.4,"d":5.8,"u":7.6,"h":12.4},
{"t":4,"c":"ALL","m":"b","s":"A","l":4.3,"q":4.8,"d":5.6,"u":8.0,"h":10.6},
{"t":4,"c":"ALL","m":"b","s":"B","l":4.3,"q":4.8,"d":5.6,"u":7.6,"h":11.4},
{"t":4,"c":"ALL","m":"b","s":"C","l":4.4,"q":4.9,"d":5.7,"u":7.5,"h":11.4},
{"t":4,"c":"ALL","m":"b","s":"D","l":4.3,"q":4.8,"d":5.6,"u":7.3,"h":11.2},
{"t":4,"c":"ALL","m":"b","s":"E","l":4.3,"q":4.8,"d":5.5,"u":6.7,"h":7.5},
{"t":4,"c":"ALL","m":"b","s":"F","l":4.2,"q":4.7,"d":5.5,"u":6.5,"h":7.3},
{"t":4,"c":"ALL","m":"b","s":"G","l":4.3,"q":4.8,"d":5.5,"u":6.5,"h":7.5},
{"t":4,"c":"ALL","m":"c","s":"A","l":3.8,"q":4.2,"d":5.3,"u":7.2,"h":10.4},
{"t":4,"c":"ALL","m":"c","s":"B","l":3.8,"q":4.2,"d":5.3,"u":7.0,"h":10.2},
{"t":4,"c":"ALL","m":"c","s":"C","l":3.9,"q":4.3,"d":5.4,"u":7.2,"h":10.0},
{"t":4,"c":"ALL","m":"c","s":"D","l":3.8,"q":4.2,"d":5.3,"u":7.4,"h":11.7},
{"t":4,"c":"ALL","m":"c","s":"E","l":3.8,"q":4.2,"d":5.2,"u":6.5,"h":7.3},
{"t":4,"c":"ALL","m":"c","s":"F","l":3.7,"q":4.1,"d":5.2,"u":6.3,"h":7.0},
{"t":4,"c":"ALL","m":"c","s":"G","l":3.8,"q":4.2,"d":5.2,"u":6.2,"h":6.9},
{"t":4,"c":"ALL","m":"d","s":"A","l":4.0,"q":4.4,"d":5.3,"u":6.3,"h":7.3},
{"t":4,"c":"ALL","m":"d","s":"B","l":4.0,"q":4.4,"d":5.3,"u":6.2,"h":6.9},
{"t":4,"c":"ALL","m":"d","s":"C","l":4.1,"q":4.5,"d":5.4,"u":6.2,"h":7.0},
{"t":4,"c":"ALL","m":"d","s":"D","l":4.0,"q":4.4,"d":5.3,"u":6.1,"h":6.8},
{"t":4,"c":"ALL","m":"d","s":"E","l":4.0,"q":4.4,"d":5.2,"u":6.0,"h":6.6},
{"t":4,"c":"ALL","m":"d","s":"F","l":3.9,"q":4.3,"d":5.2,"u":6.0,"h":6.5},
{"t":4,"c":"ALL","m":"d","s":"G","l":4.0,"q":4.4,"d":5.3,"u":6.1,"h":6.8},
{"t":4,"c":"ALL","m":"e","s":"A","l":3.9,"q":4.3,"d":5.2,"u":6.0,"h":6.7},
{"t":4,"c":"ALL","m":"e","s":"B","l":3.9,"q":4.3,"d":5.2,"u":5.9,"h":6.5},
{"t":4,"c":"ALL","m":"e","s":"C","l":4.0,"q":4.4,"d":5.3,"u":6.0,"h":6.6},
{"t":4,"c":"ALL","m":"e","s":"D","l":3.9,"q":4.3,"d":5.1,"u":5.8,"h":6.4},
{"t":4,"c":"ALL","m":"e","s":"E","l":3.9,"q":4.3,"d":5.2,"u":5.9,"h":6.6},
{"t":4,"c":"ALL","m":"e","s":"F","l":3.9,"q":4.3,"d":5.2,"u":5.9,"h":6.5},
{"t":4,"c":"ALL","m":"e","s":"G","l":3.9,"q":4.3,"d":5.1,"u":5.8,"h":6.3}
 ]},
 "title":{"text":["Within message type, the “whiskers” on the boxplots extend from the 10th to the 25th percentile and the 75th to the 90th percentile of the latency distribution for each receiving segment; the 50th percentile (median) is marked with a horizontal line.","Within message type, left to right receiving segment order is: A, B, C, D, E, F, G.","Delays corresponding to Segment H node receipts are not displayed, and the sending node for each cell has no receiving latency distribution except node to gateway."],"orient":"bottom","anchor":"middle","fontSize":8.5,"fontStyle":"italic","fontWeight":"normal","lineHeight":10.3,"offset":5,"dx":48},
 "spacing":{"row":9.6,"column":8.5},
 "facet":{
  "row":{"field":"t","type":"ordinal","header":{"title":null,"labelAngle":0,"labelOrient":"left","labelAlign":"left","labelBaseline":"middle","labelFontSize":8.5,"labelFontWeight":"bold","labelLineHeight":-11,"labelPadding":9,"labelExpr":"datum.value == 1 ? ['to Gateway','\u2800\u2800Node'] : datum.value == 2 ? ['to Gateway','\u2800Gateway'] : datum.value == 3 ? ['to Node','Gateway'] : ['\u2800\u2800Receiver','Transmitter to']"}},
  "column":{"field":"c","type":"nominal","sort":["A","B","C","D","E","F","G","H","ALL"],"header":{"title":null,"labelFontSize":8,"labelFontWeight":"bold","labelPadding":13}}
 },
 "spec":{
  "width":92,"height":136,
  "encoding":{
   "x":{"field":"m","type":"nominal","scale":{"domain":["a","b","c","d","e"],"paddingInner":0.1,"paddingOuter":0},"title":"Message Type","axis":{"labelAngle":0,"labelFontSize":6.5,"labelColor":"#000","ticks":false,"domainColor":"#999","domainDash":[1,1.5],"offset":0,"labelPadding":1,"titleFontSize":7.5,"titleFontWeight":"normal","titleColor":"#000","titlePadding":8}},
   "xOffset":{"field":"s","type":"nominal","scale":{"domain":["A","B","C","D","E","F","G","H"]}}
  },
  "layer":[
   {"mark":{"type":"bar","fill":"#ededed","stroke":"#b0b0b0","strokeWidth":0.3},
    "encoding":{"y":{"field":"l","type":"quantitative","scale":{"domain":[0,17],"nice":false,"zero":false},"title":"Time Delay","axis":{"values":[0,1,2,3,3.5,4,5,6,7,8,9,9.5,10,11,12,13,14,15,16,17],"labels":false,"domain":false,"tickSize":3,"tickWidth":1,"tickColor":"#666","tickOpacity":{"condition":{"test":"datum.value == 3.5 || datum.value == 9.5","value":0},"value":1},"grid":true,"gridColor":"#c4c4c4","gridOpacity":{"condition":{"test":"datum.value == 3.5 || datum.value == 9.5","value":1},"value":0},"titleFontSize":7,"titleFontWeight":"normal","titleColor":"#000","titlePadding":14}},"y2":{"field":"h"}}},
   {"mark":{"type":"bar","fill":"#c8c8c8","stroke":"#a0a0a0","strokeWidth":0.3},
    "encoding":{"y":{"field":"q","type":"quantitative"},"y2":{"field":"u"}}},
   {"mark":{"type":"rule","color":"#8a8a8a","strokeWidth":0.6},
    "encoding":{"y":{"field":"l","type":"quantitative"},"y2":{"field":"h"}}},
   {"mark":{"type":"tick","orient":"horizontal","color":"#555","thickness":0.7,"size":2.4},
    "encoding":{"y":{"field":"d","type":"quantitative"}}}
  ]
 }
}
]
}
